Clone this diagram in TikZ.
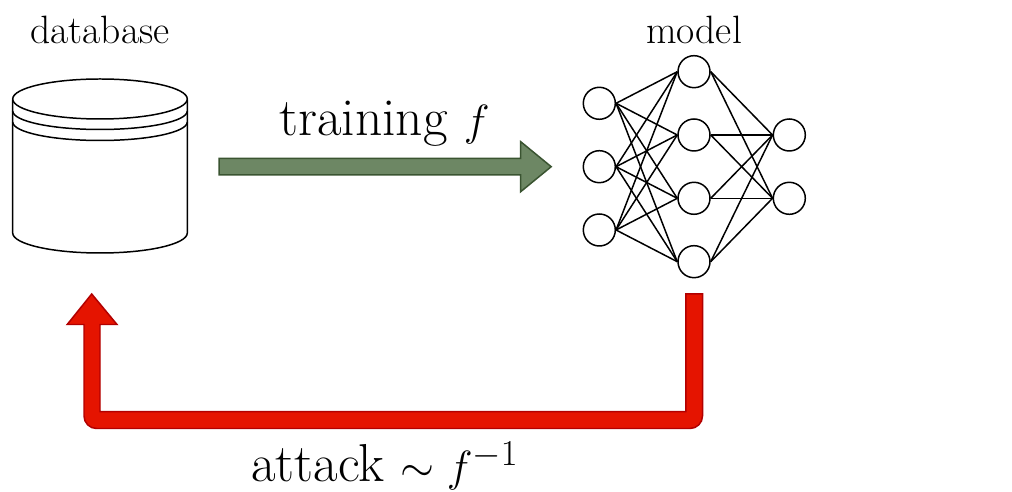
\documentclass[tikz,border=0pt]{standalone}
\usepackage{amsmath}
\usepackage{tikz}
\definecolor{trainfill}{HTML}{6D8764}
\definecolor{traindraw}{HTML}{3A5431}
\definecolor{attackfill}{HTML}{E51400}
\definecolor{attackdraw}{HTML}{B20000}
\tikzset{
	neuron/.style={circle,draw,line width=0.85pt,minimum size=0.64cm,inner sep=0pt,fill=white},
	smalllabel/.style={font=\fontsize{22.5}{26}\selectfont},
	biglabel/.style={font=\fontsize{30.4}{34}\selectfont},
}
\begin{document}
\begin{tikzpicture}[x=0.2mm,y=-0.2mm,line width=0.85pt]
	\useasboundingbox (0,0) rectangle (1012,492);
	
	% Datenbank
	\draw (12.7,100) -- (12.7,233) arc[start angle=180,end angle=0,x radius=87.3,y radius=20] -- (187.3,100);
	\draw (100,99) ellipse[x radius=87.3,y radius=20];
	\foreach \y in {111,122}
	\draw (12.7,\y) arc[start angle=180,end angle=0,x radius=87.3,y radius=18.5];
	\node[smalllabel] (database) at (100,30) {database};
	
	% Netz
	\foreach \n/\y in {1/103.3,2/166.7,3/230}
	\node[neuron] (in\n) at (599.3,\y) {};
	\foreach \n/\y in {1/71.7,2/135,3/198.3,4/261.7}
	\node[neuron] (hid\n) at (694,\y) {};
	\foreach \n/\y in {1/135,2/198.3}
	\node[neuron] (out\n) at (789.3,\y) {};
	\foreach \i in {1,2,3}
	\foreach \j in {1,2,3,4}
	\draw (in\i.east) -- (hid\j.west);
	\foreach \j in {1,2,3,4}
	\foreach \k in {1,2}
	\draw (hid\j.east) -- (out\k.west);
	\node[smalllabel] (model) at (694,30) {model};
	
	% Pfeil training
	\draw[fill=trainfill,draw=traindraw] (219,158.3) -- (520.7,158.3) -- (520.7,141.7) -- (551.2,166.7)
	-- (520.7,191.7) -- (520.7,175) -- (219,175) -- cycle;
	\node[biglabel] (training) at (384.5,124) {training $f$};
	
	% Pfeil attack
	\draw[fill=attackfill,draw=attackdraw] (702.5,294) -- (702.5,416) arc[start angle=0,end angle=90,radius=12.5]
	-- (96.5,428.5) arc[start angle=90,end angle=180,radius=12.5] -- (84,324.5) -- (67.2,324.5) -- (91.7,294)
	-- (117,324.5) -- (100,324.5) -- (100,411.7) -- (685.8,411.7) -- (685.8,294) -- cycle;
	\node[biglabel,inner ysep=0pt] (attack) at (385,466) {attack $\sim f^{-1}$};
\end{tikzpicture}
\end{document}
